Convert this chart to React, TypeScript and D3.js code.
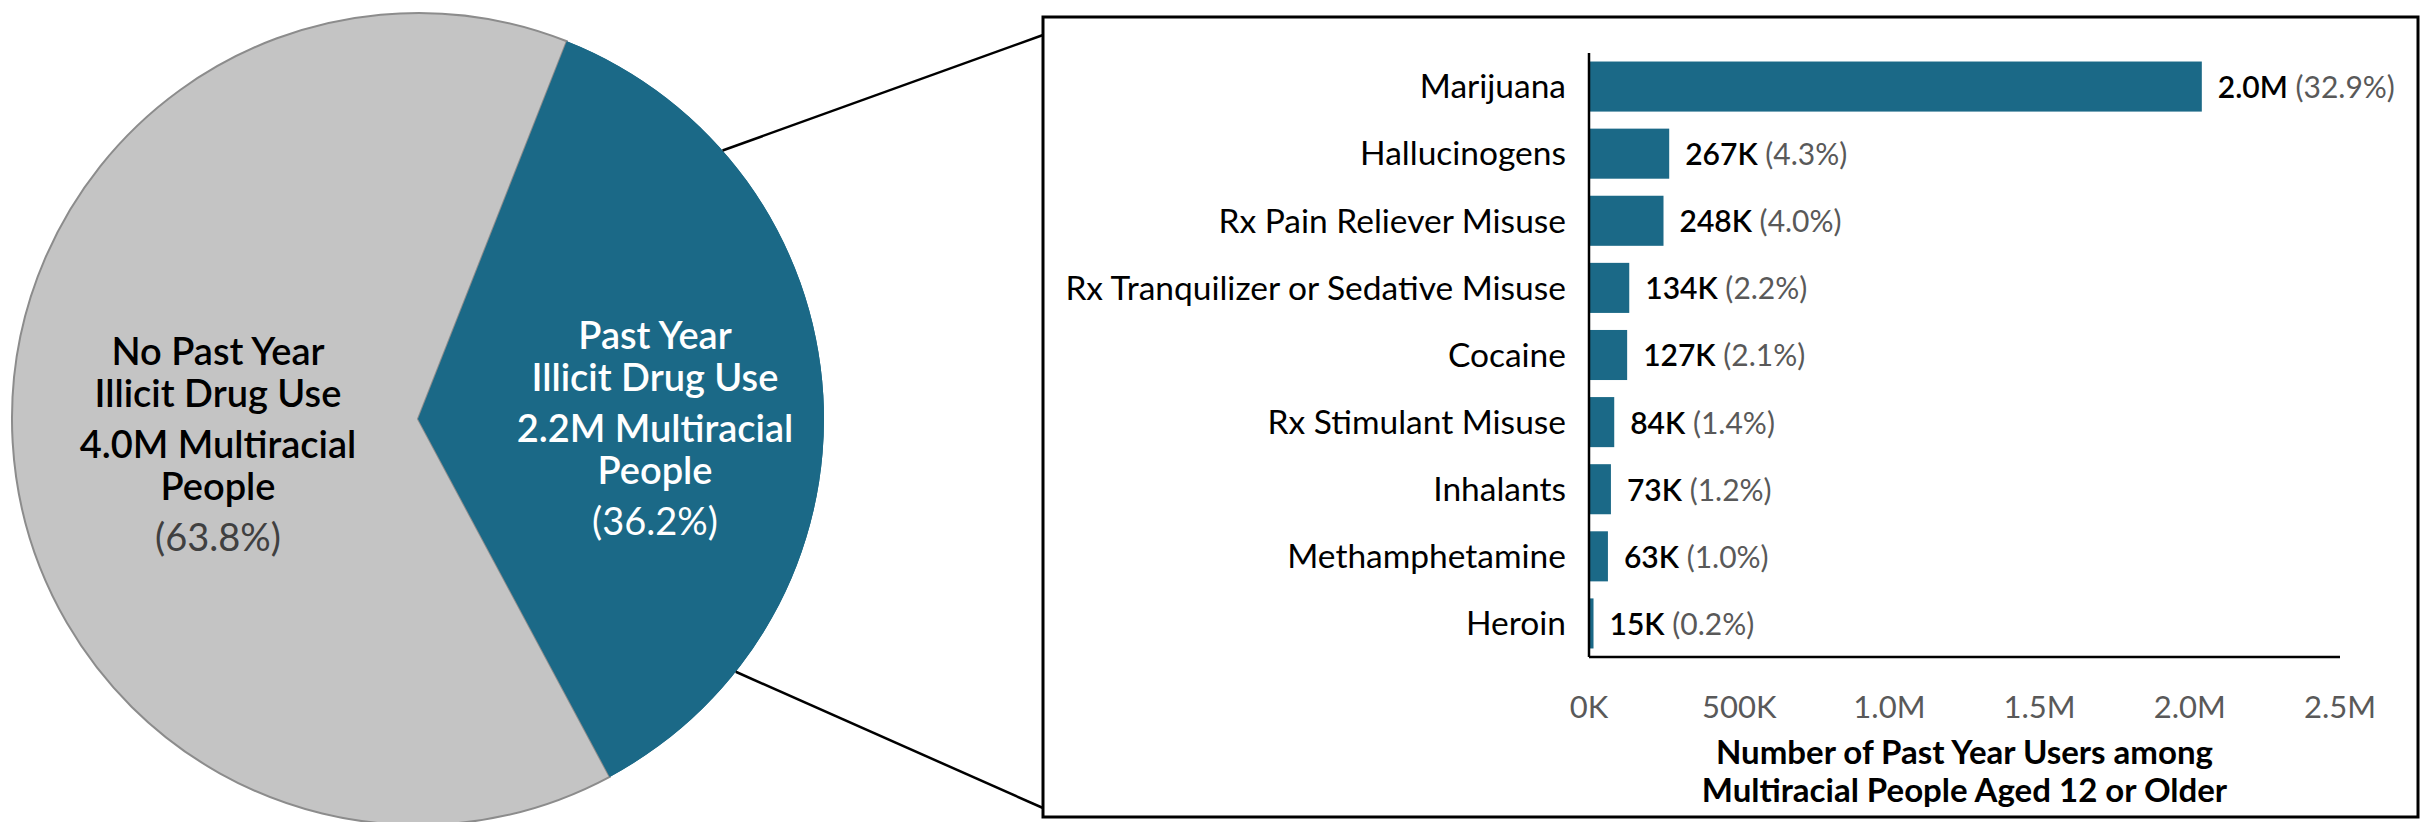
import * as d3 from "d3";

// pie: share of multiracial people 12+ with / without past-year illicit drug use
const pieNames = ["Past Year Illicit Drug Use", "No Past Year Illicit Drug Use"];
const pieValues = [36.2, 63.8];
const pieLines = [
  ["Past Year", "Illicit Drug Use", "2.2M Multiracial", "People"],
  ["No Past Year", "Illicit Drug Use", "4.0M Multiracial", "People"],
];
const piePercents = ["(36.2%)", "(63.8%)"];

// bars: past-year users by drug
const categories = [
  "Marijuana",
  "Hallucinogens",
  "Rx Pain Reliever Misuse",
  "Rx Tranquilizer or Sedative Misuse",
  "Cocaine",
  "Rx Stimulant Misuse",
  "Inhalants",
  "Methamphetamine",
  "Heroin",
];
const users = [2040000, 267000, 248000, 134000, 127000, 84000, 73000, 63000, 15000];
const userLabels = ["2.0M", "267K", "248K", "134K", "127K", "84K", "73K", "63K", "15K"];
const percentLabels = ["32.9%", "4.3%", "4.0%", "2.2%", "2.1%", "1.4%", "1.2%", "1.0%", "0.2%"];
const tickValues = [0, 500000, 1000000, 1500000, 2000000, 2500000];
const tickLabels = ["0K", "500K", "1.0M", "1.5M", "2.0M", "2.5M"];

const W = 2427;
const H = 822;
const BLUE = "#1b6987";
const GRAY = "#c4c4c4";
const FONT = "Lato, 'Open Sans', sans-serif";

export default function App() {
  // pie geometry
  const cx = 418;
  const cy = 419;
  const r = 406;
  const startDeg = 21.5;

  const pie = d3
    .pie<number>()
    .sort(null)
    .startAngle((startDeg * Math.PI) / 180)
    .endAngle(((startDeg + 360) * Math.PI) / 180);
  const arcs = pie(pieValues);
  const arc = d3.arc<d3.PieArcDatum<number>>().innerRadius(0).outerRadius(r);

  // zoom connector start points on the pie edge
  const pt = (deg: number) => {
    const a = (deg * Math.PI) / 180;
    return [cx + r * Math.sin(a), cy - r * Math.cos(a)];
  };
  const [tx, ty] = pt(48.6);
  const [bx, by] = pt(128.5);

  // bar panel
  const panel = { x: 1043, y: 17, w: 1375, h: 800 };
  const x = d3.scaleLinear().domain([0, 2500000]).range([1589, 2340]);
  const y = d3
    .scaleBand<string>()
    .domain(categories)
    .range([53, 657])
    .paddingInner(0.254)
    .paddingOuter(0.127);
  const axisMid = (x.range()[0] + x.range()[1]) / 2;

  // label block centres / first baselines
  const blockPos = [
    { x: 655, y: 349 },
    { x: 218, y: 365 },
  ];

  return (
    <svg
      width={W}
      height={H}
      style={{ position: "absolute", left: 0, top: 0, background: "#fff" }}
      fontFamily={FONT}
    >
      <g transform={`translate(${cx},${cy})`}>
        {arcs.map((d, i) => (
          <path
            key={pieNames[i]}
            d={arc(d) || ""}
            fill={i === 0 ? BLUE : GRAY}
            stroke={i === 0 ? "none" : "#8c8c8c"}
            strokeWidth={2}
          />
        ))}
        {/* redraw blue on top so gray outline doesn't show over it */}
        <path d={arc(arcs[0]) || ""} fill={BLUE} />
      </g>

      {pieLines.map((lines, i) => {
        const p = blockPos[i];
        const col = i === 0 ? "#fff" : "#000";
        return (
          <g key={i} textAnchor="middle">
            {lines.map((t, j) => (
              <text
                key={t + j}
                x={p.x}
                y={p.y + j * 42 + (j >= 2 ? 9 : 0)}
                fontSize={38}
                fontWeight={600}
                fill={col}
              >
                {t}
              </text>
            ))}
            <text
              x={p.x}
              y={p.y + 186}
              fontSize={38}
              fill={i === 0 ? "#fff" : "#404040"}
            >
              {piePercents[i]}
            </text>
          </g>
        );
      })}

      <line x1={tx} y1={ty} x2={panel.x} y2={35} stroke="#000" strokeWidth={2.5} />
      <line x1={bx} y1={by} x2={panel.x} y2={808} stroke="#000" strokeWidth={2.5} />
      <rect
        x={panel.x}
        y={panel.y}
        width={panel.w}
        height={panel.h}
        fill="#fff"
        stroke="#000"
        strokeWidth={3}
      />

      {categories.map((c, i) => {
        const yc = (y(c) as number) + y.bandwidth() / 2;
        const w = x(users[i]) - x(0);
        return (
          <g key={c}>
            <rect x={x(0)} y={y(c)} width={w} height={y.bandwidth()} fill={BLUE} />
            <text
              x={1566}
              y={yc}
              dy="0.35em"
              textAnchor="end"
              fontSize={33.5}
              fill="#000"
            >
              {c}
            </text>
            <text x={x(users[i]) + 16} y={yc} dy="0.38em" fontSize={30}>
              <tspan fontWeight={600} fill="#000">
                {userLabels[i]}
              </tspan>
              <tspan fill="#595959"> ({percentLabels[i]})</tspan>
            </text>
          </g>
        );
      })}

      <line x1={x(0)} y1={53} x2={x(0)} y2={657} stroke="#000" strokeWidth={2.5} />
      <line x1={x(0)} y1={657} x2={x(2500000)} y2={657} stroke="#000" strokeWidth={2.5} />

      {tickValues.map((v, i) => (
        <text
          key={v}
          x={x(v)}
          y={718}
          textAnchor="middle"
          fontSize={31}
          fill="#595959"
        >
          {tickLabels[i]}
        </text>
      ))}
      <text x={axisMid} y={764} textAnchor="middle" fontSize={33} fontWeight={700}>
        Number of Past Year Users among
      </text>
      <text x={axisMid} y={802} textAnchor="middle" fontSize={33} fontWeight={700}>
        Multiracial People Aged 12 or Older
      </text>
    </svg>
  );
}
